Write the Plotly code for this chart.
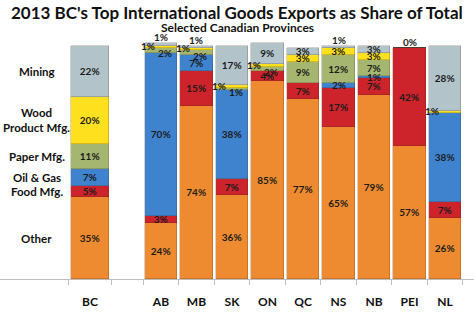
import plotly.graph_objects as go

# Provinces and their slot on the x axis (BC set apart from the rest)
provinces = ["BC", "AB", "MB", "SK", "ON", "QC", "NS", "NB", "PEI", "NL"]
slots = [0, 2, 3, 4, 5, 6, 7, 8, 9, 10]

# Share of 2013 international goods exports (%), bottom to top of each bar
other = [35, 24, 74, 36, 85, 77, 65, 79, 57, 26]
food_mfg = [5, 3, 15, 7, 4, 7, 17, 7, 42, 7]
oil_gas = [7, 70, 7, 38, 0, 0, 2, 1, 0, 38]
paper_mfg = [11, 2, 2, 1, 2, 9, 12, 7, 0, 0]
wood_mfg = [20, 1, 1, 1, 1, 3, 3, 3, 0, 1]
mining = [22, 1, 1, 17, 9, 3, 1, 3, 0, 28]

series = [
    ("Other", other, "#EE8B30"),
    ("Food Mfg.", food_mfg, "#CD242B"),
    ("Oil & Gas", oil_gas, "#3F83CF"),
    ("Paper Mfg.", paper_mfg, "#A4B670"),
    ("Wood<br>Product Mfg.", wood_mfg, "#FFE01E"),
    ("Mining", mining, "#B3C3CA"),
]

FONT = "Lato"
LABEL = dict(family=FONT, size=10, color="#1b1b1b")

fig = go.Figure()
annotations = []
base = [0] * len(provinces)
widths = [1.05] + [0.92] * (len(provinces) - 1)

for name, vals, color in series:
    texts = [f"<b>{v}%</b>" if v >= 3 else "" for v in vals]
    fig.add_trace(go.Bar(
        x=slots, y=vals, name=name, width=widths,
        marker=dict(color=color, line=dict(color="rgba(60,40,20,0.35)", width=0.6)),
        text=texts, textposition="inside", insidetextanchor="middle",
        textangle=0, textfont=LABEL, hoverinfo="skip",
    ))
    # small shares get their own offset labels so they don't pile up
    for i, v in enumerate(vals):
        if name == "Mining" and v < 3:
            annotations.append(dict(
                x=slots[i], y=base[i] + v, text=f"<b>{v}%</b>", showarrow=False,
                yanchor="bottom", font=LABEL, yshift=-2))
        elif 1 <= v < 3:
            xshift = {"Wood<br>Product Mfg.": -13, "Paper Mfg.": 4}.get(name, 0)
            yshift = {"Paper Mfg.": -3, "Wood<br>Product Mfg.": 1}.get(name, 0)
            annotations.append(dict(
                x=slots[i], y=base[i] + v / 2, text=f"<b>{v}%</b>", showarrow=False,
                font=LABEL, xshift=xshift, yshift=yshift))
    # category names beside the BC bar
    annotations.append(dict(
        x=-1.5, y=base[0] + vals[0] / 2, text=f"<b>{name}</b>", showarrow=False,
        font=dict(family=FONT, size=11.5, color="#111111"), align="center"))
    base = [b + v for b, v in zip(base, vals)]

# title and subtitle above the plot area
annotations += [
    dict(xref="paper", yref="paper", x=0.5, y=1.118, yanchor="middle",
         text="<b>2013 BC's Top International Goods Exports as Share of Total</b>",
         showarrow=False, font=dict(family=FONT, size=17, color="#111111")),
    dict(xref="paper", yref="paper", x=0.5, y=1.057, yanchor="middle",
         text="<b>Selected Canadian Provinces</b>",
         showarrow=False, font=dict(family=FONT, size=12, color="#111111")),
]

fig.update_layout(
    width=474, height=324,
    barmode="stack", bargap=0,
    showlegend=False,
    paper_bgcolor="white", plot_bgcolor="white",
    margin=dict(l=0, r=0, t=41, b=45),
    uniformtext=dict(minsize=10, mode="show"),
    annotations=annotations,
    xaxis=dict(
        range=[-2.535, 10.817], tickvals=slots, ticktext=[f"<b>{p}</b>" for p in provinces],
        tickfont=dict(family=FONT, size=12, color="#111111"), ticklabelstandoff=12,
        showgrid=False, zeroline=False, showline=True, linecolor="#BDBDBD",
        ticks="", minor=dict(tickvals=[-0.6, 0.6] + [s + 0.5 for s in slots[1:]] + [1.5],
                             ticks="outside", ticklen=5, tickcolor="#BDBDBD"),
    ),
    yaxis=dict(range=[0, 102], visible=False),
)

fig.write_html("out.html")
